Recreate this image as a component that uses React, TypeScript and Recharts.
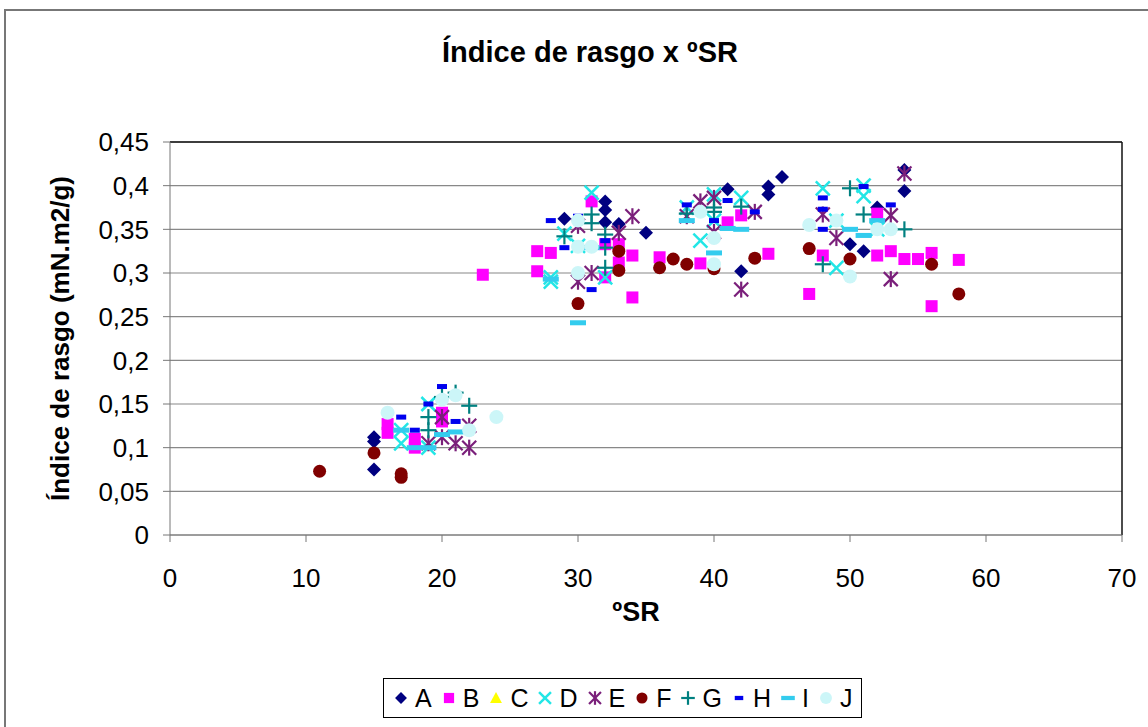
import React from 'react';
import { ScatterChart, Scatter, XAxis, YAxis, CartesianGrid, Legend, Label, ReferenceLine } from 'recharts';

type Pt = [number, number];

const xTicks = [0, 10, 20, 30, 40, 50, 60, 70];
const yTicks = [0, 0.05, 0.1, 0.15, 0.2, 0.25, 0.3, 0.35, 0.4, 0.45];

// [ºSR, índice de rasgo]
const seriesA: Pt[] = [
  [15, 0.112], [15, 0.107], [15, 0.075], [29, 0.362], [32, 0.382], [32, 0.372], [32, 0.358],
  [33, 0.356], [35, 0.346], [41, 0.396], [42, 0.302], [44, 0.399], [44, 0.39], [45, 0.41],
  [50, 0.333], [51, 0.325], [52, 0.375], [54, 0.418], [54, 0.394],
];
const seriesB: Pt[] = [
  [16, 0.127], [16, 0.117], [18, 0.11], [18, 0.1], [20, 0.14], [20, 0.13], [23, 0.298],
  [27, 0.325], [27, 0.302], [28, 0.323], [31, 0.382], [32, 0.333], [32, 0.295], [33, 0.333],
  [33, 0.312], [34, 0.32], [34, 0.272], [36, 0.318], [39, 0.311], [41, 0.358], [42, 0.366],
  [44, 0.322], [47, 0.276], [48, 0.32], [52, 0.368], [52, 0.32], [53, 0.325], [54, 0.316],
  [55, 0.316], [56, 0.323], [56, 0.262], [58, 0.315],
];
const seriesC: Pt[] = [];
const seriesD: Pt[] = [
  [17, 0.12], [17, 0.105], [19, 0.15], [19, 0.1], [28, 0.295], [28, 0.29], [29, 0.345],
  [30, 0.331], [31, 0.392], [32, 0.295], [38, 0.375], [39, 0.337], [40, 0.39], [40, 0.36],
  [42, 0.386], [48, 0.397], [49, 0.306], [49, 0.36], [51, 0.4], [51, 0.388], [52, 0.35],
];
const seriesE: Pt[] = [
  [19, 0.105], [20, 0.135], [20, 0.112], [21, 0.105], [22, 0.1], [22, 0.125], [30, 0.354],
  [30, 0.29], [31, 0.3], [33, 0.346], [34, 0.365], [38, 0.365], [39, 0.382], [40, 0.386],
  [40, 0.347], [42, 0.281], [43, 0.37], [48, 0.367], [49, 0.34], [53, 0.366], [53, 0.293],
  [54, 0.414],
];
const seriesF: Pt[] = [
  [11, 0.073], [15, 0.094], [17, 0.07], [17, 0.066], [30, 0.265], [33, 0.325], [33, 0.303],
  [36, 0.306], [37, 0.316], [38, 0.31], [40, 0.305], [43, 0.317], [47, 0.328], [50, 0.316],
  [56, 0.31], [58, 0.276],
];
const seriesG: Pt[] = [
  [19, 0.135], [19, 0.12], [20, 0.158], [21, 0.163], [22, 0.148], [29, 0.342], [31, 0.357],
  [31, 0.367], [32, 0.344], [32, 0.329], [32, 0.306], [38, 0.368], [40, 0.37], [40, 0.375],
  [42, 0.376], [48, 0.31], [50, 0.397], [51, 0.367], [54, 0.35],
];
const seriesH: Pt[] = [
  [17, 0.135], [18, 0.12], [19, 0.15], [20, 0.17], [21, 0.13], [28, 0.36], [29, 0.329],
  [30, 0.365], [31, 0.281], [32, 0.337], [38, 0.378], [40, 0.36], [41, 0.383], [43, 0.37],
  [48, 0.386], [48, 0.373], [48, 0.35], [51, 0.399], [53, 0.378],
];
const seriesI: Pt[] = [
  [17, 0.12], [18, 0.1], [19, 0.1], [20, 0.115], [21, 0.118], [28, 0.293], [30, 0.243],
  [31, 0.329], [38, 0.36], [40, 0.323], [41, 0.351], [42, 0.35], [50, 0.35], [51, 0.343],
  [52, 0.36],
];
const seriesJ: Pt[] = [
  [16, 0.14], [20, 0.155], [21, 0.16], [22, 0.12], [24, 0.135], [30, 0.36], [30, 0.33],
  [30, 0.3], [31, 0.33], [39, 0.37], [40, 0.34], [40, 0.31], [47, 0.355], [49, 0.36],
  [50, 0.296], [52, 0.35], [53, 0.35],
];

type Kind = 'diamond' | 'square' | 'triangle' | 'x' | 'star' | 'circle' | 'plus' | 'dash' | 'longdash' | 'dot';

const series: { name: string; color: string; kind: Kind; points: Pt[] }[] = [
  { name: 'A', color: '#000080', kind: 'diamond', points: seriesA },
  { name: 'B', color: '#ff00ff', kind: 'square', points: seriesB },
  { name: 'C', color: '#ffff00', kind: 'triangle', points: seriesC },
  { name: 'D', color: '#22e6e6', kind: 'x', points: seriesD },
  { name: 'E', color: '#7a1f7a', kind: 'star', points: seriesE },
  { name: 'F', color: '#800000', kind: 'circle', points: seriesF },
  { name: 'G', color: '#008080', kind: 'plus', points: seriesG },
  { name: 'H', color: '#0000ee', kind: 'dash', points: seriesH },
  { name: 'I', color: '#33ccee', kind: 'longdash', points: seriesI },
  { name: 'J', color: '#ccf6f8', kind: 'dot', points: seriesJ },
];

// draws one marker centred on (cx, cy)
const drawMarker = (kind: Kind, color: string, cx: number, cy: number, s = 1) => {
  switch (kind) {
    case 'diamond':
      return <polygon points={`${cx},${cy - 7 * s} ${cx + 7 * s},${cy} ${cx},${cy + 7 * s} ${cx - 7 * s},${cy}`} fill={color} />;
    case 'square':
      return <rect x={cx - 6 * s} y={cy - 6 * s} width={12 * s} height={12 * s} fill={color} />;
    case 'triangle':
      return <polygon points={`${cx},${cy - 7 * s} ${cx + 7 * s},${cy + 6 * s} ${cx - 7 * s},${cy + 6 * s}`} fill={color} />;
    case 'x':
      return (
        <g stroke={color} strokeWidth={2.5}>
          <line x1={cx - 7 * s} y1={cy - 7 * s} x2={cx + 7 * s} y2={cy + 7 * s} />
          <line x1={cx - 7 * s} y1={cy + 7 * s} x2={cx + 7 * s} y2={cy - 7 * s} />
        </g>
      );
    case 'star':
      return (
        <g stroke={color} strokeWidth={2.2}>
          <line x1={cx - 7 * s} y1={cy - 7 * s} x2={cx + 7 * s} y2={cy + 7 * s} />
          <line x1={cx - 7 * s} y1={cy + 7 * s} x2={cx + 7 * s} y2={cy - 7 * s} />
          <line x1={cx} y1={cy - 8 * s} x2={cx} y2={cy + 8 * s} />
        </g>
      );
    case 'circle':
      return <circle cx={cx} cy={cy} r={6.5 * s} fill={color} />;
    case 'plus':
      return (
        <g stroke={color} strokeWidth={2.2}>
          <line x1={cx - 8 * s} y1={cy} x2={cx + 8 * s} y2={cy} />
          <line x1={cx} y1={cy - 8 * s} x2={cx} y2={cy + 8 * s} />
        </g>
      );
    case 'dash':
      return <rect x={cx - 5 * s} y={cy - 2.5 * s} width={10 * s} height={5 * s} fill={color} />;
    case 'longdash':
      return <rect x={cx - 8 * s} y={cy - 2.5 * s} width={16 * s} height={5 * s} fill={color} />;
    case 'dot':
      return <circle cx={cx} cy={cy} r={7 * s} fill={color} />;
  }
};

const fmt = (v: number) => String(v).replace('.', ',');

const LegendBox = () => (
  <div
    style={{
      display: 'flex',
      alignItems: 'center',
      gap: 8,
      border: '1px solid #000',
      padding: '0 9px 0 8px',
      height: 40,
      boxSizing: 'border-box',
      background: '#fff',
    }}
  >
    {series.map(s => (
      <div key={s.name} style={{ display: 'flex', alignItems: 'center' }}>
        <svg width={18} height={18}>{drawMarker(s.kind, s.color, 9, 9, 0.85)}</svg>
        <span style={{ marginLeft: 5, fontSize: 25, color: '#000' }}>{s.name}</span>
      </div>
    ))}
  </div>
);

const App: React.FC = () => {
  return (
    <div style={{ position: 'absolute', left: 0, top: 0, width: 1148, height: 727, background: '#fff', fontFamily: '"Liberation Sans", Arial, sans-serif', overflow: 'hidden' }}>
      <div style={{ position: 'absolute', left: 4, top: 9, width: 1160, height: 740, border: '2px solid #777' }} />
      <div style={{ position: 'absolute', left: 0, width: 1180, top: 36, textAlign: 'center', fontSize: 29, fontWeight: 'bold', color: '#000' }}>
        Índice de rasgo x ºSR
      </div>
      <ScatterChart width={1148} height={727} margin={{ top: 142, right: 26, bottom: 92, left: 100 }} style={{ position: 'absolute', left: 0, top: 0 }}>
        <CartesianGrid horizontal vertical={false} stroke="#888" strokeWidth={1.2} />
        <XAxis
          type="number"
          dataKey="x"
          domain={[0, 70]}
          ticks={xTicks}
          interval={0}
          height={100}
          tickSize={7}
          tickMargin={27}
          stroke="#777"
          tick={{ fill: '#000', fontSize: 26 }}
        >
          <Label value="ºSR" position="insideBottom" offset={14} dx={-10} style={{ fontSize: 27, fontWeight: 'bold', fill: '#000' }} />
        </XAxis>
        <YAxis
          type="number"
          dataKey="y"
          domain={[0, 0.45]}
          ticks={yTicks}
          interval={0}
          width={70}
          tickSize={7}
          tickMargin={14}
          stroke="#777"
          tickFormatter={fmt}
          tick={{ fill: '#000', fontSize: 26 }}
        >
          <Label value="Índice de rasgo (mN.m2/g)" angle={-90} position="left" offset={40} style={{ fontSize: 26, fontWeight: 'bold', fill: '#000', textAnchor: 'middle' }} />
        </YAxis>
        {/* plot area frame on top and right */}
        <ReferenceLine y={0.45} stroke="#111" strokeWidth={1.5} />
        <ReferenceLine x={70} stroke="#111" strokeWidth={1.5} />
        {series.map(s => (
          <Scatter
            key={s.name}
            name={s.name}
            data={s.points.map(([x, y]) => ({ x, y }))}
            isAnimationActive={false}
            shape={(p: any) => drawMarker(s.kind, s.color, p.cx, p.cy)}
          />
        ))}
        <Legend
          layout="horizontal"
          verticalAlign="middle"
          align="center"
          content={() => <LegendBox />}
          wrapperStyle={{ left: 383, top: 678, width: 'auto', height: 40 }}
        />
      </ScatterChart>
    </div>
  );
};

export default App;
